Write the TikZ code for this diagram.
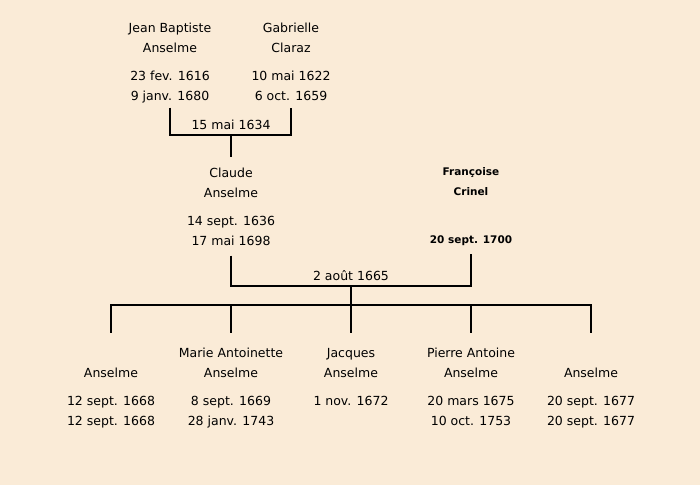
\documentclass[tikz,border=0pt]{standalone}
\usepackage{fontspec}
\setmainfont{DejaVu Sans}
\usepackage{tikz}
\usetikzlibrary{trees,positioning}
\usepackage{xcolor}
\definecolor{paper}{HTML}{FAEBD7}

\begin{document}
\begin{tikzpicture}[x=1pt,y=1pt,line width=2pt,
  person/.style={align=center,inner sep=0pt,font=\fontsize{12.5}{20}\selectfont,
    execute at begin node=\strut,execute at end node=\strut},
  bold person/.style={person,font=\fontsize{10.5}{20}\selectfont\bfseries},
  wedding/.style={inner sep=0pt,font=\fontsize{12.5}{20}\selectfont},
  level distance=61pt,
  level 1/.style={sibling distance=120pt},
  every child node/.style={person,anchor=north},
  child anchor=north,
  edge from parent/.style={draw,shorten >=14pt},
  edge from parent path={(\tikzparentnode) -- ++(0,-19) -| (\tikzchildnode\tikzchildanchor)}]
  \fill[paper] (0,0) rectangle (700,-485);
  \node[person,anchor=north] (jean) at (170,-22) {Jean Baptiste\\Anselme\\[8pt]23 fev. 1616\\9 janv. 1680};
  \node[person,anchor=north] (gabrielle) at (291,-22) {Gabrielle\\Claraz\\[8pt]10 mai 1622\\6 oct. 1659};
  \coordinate (wed1) at (231,-135);
  \draw (jean.south) |- (wed1) -| (gabrielle.south);
  \node[wedding,above=4pt of wed1] (date1) {15 mai 1634};
  \node[person,anchor=north] (claude) at (231,-167) {Claude\\Anselme\\[8pt]14 sept. 1636\\17 mai 1698};
  \draw[shorten >=10pt] (wed1) -- (claude.north);
  \node[bold person,anchor=north] (francoise) at (471,-167) {Françoise\\Crinel\\[8pt]\strut\\20 sept. 1700};
  \node[coordinate] (wed2) at (351,-286) {}
    child {node (anselme1) {\vphantom{M}\\Anselme\\[8pt]12 sept. 1668\\12 sept. 1668}}
    child {node (marie) {Marie Antoinette\\Anselme\\[8pt]8 sept. 1669\\28 janv. 1743}}
    child {node (jacques) {Jacques\\Anselme\\[8pt]1 nov. 1672}}
    child {node (pierre) {Pierre Antoine\\Anselme\\[8pt]20 mars 1675\\10 oct. 1753}}
    child {node (anselme5) {\vphantom{M}\\Anselme\\[8pt]20 sept. 1677\\20 sept. 1677}};
  \draw[shorten <=3pt,shorten >=3pt] (claude.south) |- (wed2) -| (francoise.south);
  \node[wedding,above=4pt of wed2] (date2) {2 août 1665};
\end{tikzpicture}
\end{document}
